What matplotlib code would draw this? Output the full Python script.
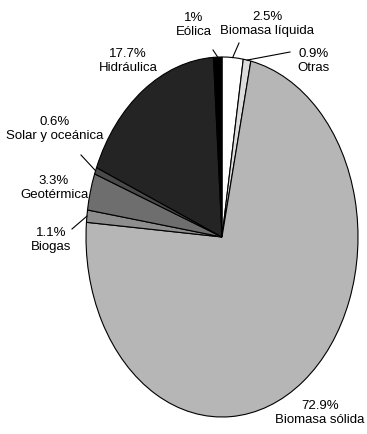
import numpy as np
import matplotlib.pyplot as plt

# Share of each renewable source (clockwise from the top)
labels = ['Biomasa líquida', 'Otras', 'Biomasa sólida', 'Biogas',
          'Geotérmica', 'Solar y oceánica', 'Hidráulica', 'Eólica']
values = [2.5, 0.9, 72.9, 1.1, 3.3, 0.6, 17.7, 1.0]
colors = ['#ffffff', '#dcdcdc', '#b6b6b6', '#8e8e8e',
          '#6e6e6e', '#4a4a4a', '#242424', '#000000']

plt.rcParams['font.family'] = ['Liberation Sans', 'DejaVu Sans']

W, H = 367, 434
cx, cy, rx, ry = 222, 237, 136, 180


def px(x, y):
    # pixel position -> data position of the stretched pie
    return (x - cx) / rx, (cy - y) / ry


fig = plt.figure(figsize=(W / 100, H / 100), dpi=100)
ax = fig.add_axes([0, 0, 1, 1])
wedges, _ = ax.pie(values, colors=colors, startangle=90, counterclock=False,
                   wedgeprops=dict(edgecolor='black', linewidth=0.8))
ax.set_aspect('auto')
ax.set_xlim(-cx / rx, (W - cx) / rx)
ax.set_ylim(-(H - cy) / ry, cy / ry)
ax.axis('off')

# label text position and optional leader line end (pixels)
label_pos = {
    'Biomasa líquida': ((267, 24), (239, 43)),
    'Otras': ((314, 61), (290, 52)),
    'Biomasa sólida': ((320, 413), None),
    'Biogas': ((51, 240), (72, 229)),
    'Geotérmica': ((54, 188), None),
    'Solar y oceánica': ((55, 129), (81, 155)),
    'Hidráulica': ((128, 61), None),
    'Eólica': ((194, 25), (213, 50)),
}

for w, lab, v in zip(wedges, labels, values):
    (tx, ty), lead = label_pos[lab]
    txt = f'{v:g}%\n{lab}'
    ax.text(*px(tx, ty), txt, ha='center', va='center', fontsize=9.5,
            linespacing=1.3)
    if lead is not None:
        ang = np.deg2rad((w.theta1 + w.theta2) / 2)
        ex, ey = np.cos(ang), np.sin(ang)
        lx, ly = px(*lead)
        ax.plot([ex, lx], [ey, ly], color='black', linewidth=0.8)

fig.savefig('out.png', dpi=100)
